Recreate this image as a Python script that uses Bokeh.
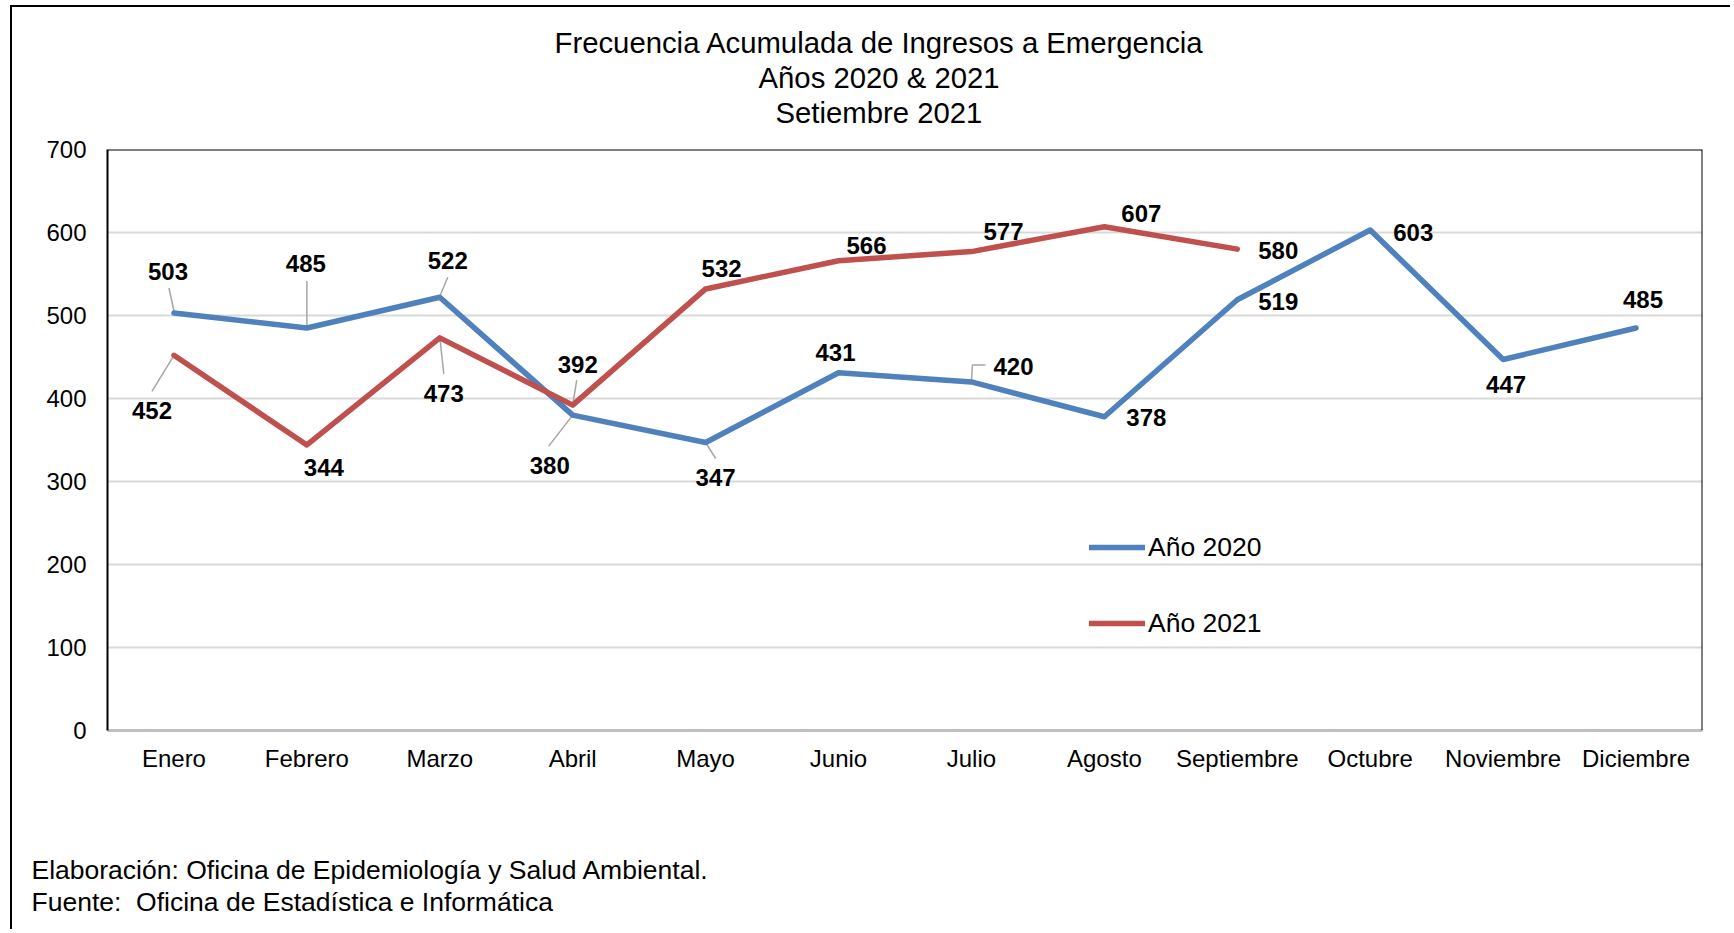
import numpy as np
from bokeh.plotting import figure
from bokeh.models import (FixedTicker, Legend, LegendItem, Span, Range1d, Title)
from bokeh.core.properties import value
from bokeh.embed import file_html
from bokeh.resources import INLINE

# ---------------- data ----------------
months = ["Enero", "Febrero", "Marzo", "Abril", "Mayo", "Junio", "Julio",
          "Agosto", "Septiembre", "Octubre", "Noviembre", "Diciembre"]
values_2020 = [503, 485, 522, 380, 347, 431, 420, 378, 519, 603, 447, 485]
values_2021 = [452, 344, 473, 392, 532, 566, 577, 607, 580]
series_names = ["Año 2020", "Año 2021"]
y_ticks = [0, 100, 200, 300, 400, 500, 600, 700]
title_lines = ["Frecuencia Acumulada de Ingresos a Emergencia",
               "Años 2020 & 2021",
               "Setiembre 2021"]
footer_lines = ["Elaboración: Oficina de Epidemiología y Salud Ambiental.",
                "Fuente:  Oficina de Estadística e Informática"]

# ---------------- layout / style ----------------
FONT = "Liberation Sans"
BLUE = "#4F81BD"
RED = "#C0504D"
W, H = 1720, 924
MB_L, MB_T = 95, 142
FW, FH = 1595, 581
MB_R = W - MB_L - FW
MB_B = H - MB_T - FH
PX_X = FW / 12.0        # pixels per category
PX_Y = FH / 700.0       # pixels per unit

# data label offsets in pixels (dx right, dy up) from each point
off_2020 = [(-6, 42), (-1, 64), (8, 37), (-23, -50), (10, -35), (-3, 20),
            (42, 15), (42, -1), (41, -2), (43, -2), (3, -25), (7, 28)]
off_2021 = [(-22, -55), (17, -23), (4, -56), (5, 41), (16, 20), (28, 15),
            (32, 20), (37, 13), (41, -1)]
# leader lines: (series, index, polyline offsets in pixels)
leaders = [
    (0, 0, [(-5, 25), (0, 2)]),
    (0, 1, [(0, 47), (0, 1)]),
    (0, 2, [(8, 20), (0, 1)]),
    (0, 3, [(-24, -31), (0, 0)]),
    (0, 4, [(10, -16), (0, 0)]),
    (0, 6, [(0, 1), (1, 17), (14, 17)]),
    (1, 0, [(-22, -36), (0, 0)]),
    (1, 2, [(4, -36), (0, 1)]),
    (1, 3, [(4, 25), (0, 0)]),
]
# horizontal offsets (px from plot-area left) of the title lines
title_offsets = [447, 651, 668]

x20 = np.arange(len(values_2020))
x21 = np.arange(len(values_2021))

p = figure(width=W, height=H, x_range=Range1d(-0.5, 11.5),
           y_range=Range1d(0, 700), output_backend="svg",
           toolbar_location=None, title=None,
           min_border_left=MB_L, min_border_right=MB_R,
           min_border_top=MB_T, min_border_bottom=MB_B)
p.styles = {"margin-left": "10px", "margin-top": "5px",
            "border-left": "2px solid black", "border-top": "2px solid black"}
p.background_fill_color = "white"
p.border_fill_color = "white"
p.outline_line_color = None

# grid
p.xgrid.visible = False
p.ygrid.grid_line_color = "#D9D9D9"
p.ygrid.grid_line_width = 2
p.yaxis.ticker = FixedTicker(ticks=y_ticks)
p.ygrid.ticker = FixedTicker(ticks=y_ticks)

# axes
p.xaxis.ticker = FixedTicker(ticks=list(range(len(months))))
p.xaxis.major_label_overrides = {i: m for i, m in enumerate(months)}
for ax in (p.xaxis, p.yaxis):
    ax.major_tick_line_color = None
    ax.minor_tick_line_color = None
    ax.major_label_text_font = FONT
    ax.major_label_text_font_size = "24px"
    ax.major_label_text_color = "black"
p.xaxis.axis_line_color = "#BFBFBF"
p.xaxis.axis_line_width = 3
p.xaxis.major_label_standoff = 8
p.yaxis.axis_line_color = "black"
p.yaxis.axis_line_width = 2
p.yaxis.major_label_standoff = 15

# top and right borders of plot area
p.add_layout(Span(location=700, dimension="width", line_color="black", line_width=2))
p.add_layout(Span(location=11.5, dimension="height", line_color="black", line_width=2))

# leader lines
lx, ly = [], []
series_vals = [values_2020, values_2021]
for s, i, pts in leaders:
    v = series_vals[s][i]
    lx.append([i + dx / PX_X for dx, dy in pts])
    ly.append([v + dy / PX_Y for dx, dy in pts])
p.multi_line(lx, ly, line_color="#A6A6A6", line_width=1.5)

# series
r20 = p.line(x20, values_2020, line_color=BLUE, line_width=5.5,
             line_cap="round", line_join="round")
r21 = p.line(x21, values_2021, line_color=RED, line_width=5.5,
             line_cap="round", line_join="round")

# data labels
for xs, vals, offs in ((x20, values_2020, off_2020), (x21, values_2021, off_2021)):
    tx = [x + o[0] / PX_X for x, o in zip(xs, offs)]
    ty = [v + o[1] / PX_Y for v, o in zip(vals, offs)]
    p.text(tx, ty, text=[str(v) for v in vals], text_font=value(FONT),
           text_font_style="bold", text_font_size="24px", text_color="black",
           text_align="center", text_baseline="middle")

# legend
legend = Legend(items=[LegendItem(label=series_names[0], renderers=[r20]),
                       LegendItem(label=series_names[1], renderers=[r21])],
                location=(982, 91), orientation="vertical")
legend.margin = 0
legend.padding = 0
legend.spacing = 44
legend.glyph_width = 56
legend.glyph_height = 32
legend.label_height = 32
legend.label_standoff = 3
legend.label_text_font = FONT
legend.label_text_font_size = "26.5px"
legend.label_text_color = "black"
legend.border_line_color = None
legend.background_fill_alpha = 0
p.add_layout(legend)

# spacer between plot area and title block
p.add_layout(Title(text=" ", text_font_size="10px", standoff=8), "above")
# title: three lines (added nearest-first)
for t, off in reversed(list(zip(title_lines, title_offsets))):
    p.add_layout(Title(text=t, align="left", offset=off, standoff=0,
                       text_font=FONT, text_font_size="29.3px",
                       text_font_style="normal", text_color="black"), "above")

# spacer between axis and footer
p.add_layout(Title(text=" ", text_font_size="10px", standoff=65), "below")
# footer: two left-aligned lines (added nearest-first); keep double spaces visible
for t in footer_lines:
    p.add_layout(Title(text=t.replace("  ", "\u00a0 "), align="left", offset=-76,
                       standoff=0, text_font=FONT, text_font_size="26.5px",
                       text_font_style="normal", text_color="black"), "below")

open("out.html", "w").write(file_html(p, INLINE))
